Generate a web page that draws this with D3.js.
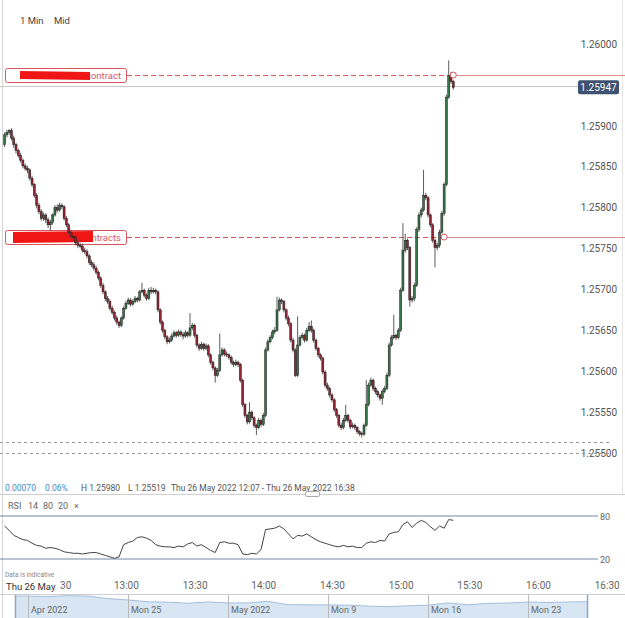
<!DOCTYPE html>
<html>
<head>
<meta charset="utf-8">
<script src="https://cdnjs.cloudflare.com/ajax/libs/d3/7.8.5/d3.min.js"></script>
<style>
  body { margin: 0; background: #fff; }
  svg { display: block; font-family: Roboto, "Open Sans", sans-serif; }
</style>
</head>
<body>
<div id="chart"></div>
<script>
// GBP/USD 1 minute candles, Thu 26 May 2022, first candle 12:07
const startTime = new Date(2022, 4, 26, 12, 7);
const firstOpen = 1.25877;

const closes = [
  1.25889, 1.25892, 1.25894, 1.25885, 1.25877, 1.25870, 1.25864, 1.25858, 1.25851, 1.25848,
  1.25846, 1.25836, 1.25828, 1.25815, 1.25803, 1.25795, 1.25787, 1.25791, 1.25785, 1.25779,
  1.25782, 1.25791, 1.25800, 1.25797, 1.25803, 1.25801, 1.25787, 1.25779, 1.25770, 1.25765,
  1.25764, 1.25757, 1.25754, 1.25753, 1.25748, 1.25746, 1.25741, 1.25733, 1.25730, 1.25726,
  1.25721, 1.25714, 1.25705, 1.25697, 1.25689, 1.25685, 1.25677, 1.25672, 1.25665, 1.25660,
  1.25656, 1.25665, 1.25677, 1.25683, 1.25687, 1.25682, 1.25685, 1.25689, 1.25687, 1.25697,
  1.25699, 1.25693, 1.25689, 1.25699, 1.25697, 1.25699, 1.25697, 1.25675, 1.25660, 1.25650,
  1.25642, 1.25636, 1.25638, 1.25643, 1.25647, 1.25644, 1.25648, 1.25645, 1.25643, 1.25647,
  1.25644, 1.25653, 1.25656, 1.25644, 1.25632, 1.25628, 1.25633, 1.25628, 1.25631, 1.25620,
  1.25611, 1.25604, 1.25595, 1.25601, 1.25620, 1.25626, 1.25621, 1.25620, 1.25617, 1.25611,
  1.25608, 1.25611, 1.25608, 1.25589, 1.25559, 1.25546, 1.25538, 1.25550, 1.25543, 1.25534,
  1.25531, 1.25540, 1.25535, 1.25546, 1.25626, 1.25636, 1.25641, 1.25648, 1.25650, 1.25675,
  1.25687, 1.25685, 1.25675, 1.25665, 1.25658, 1.25638, 1.25626, 1.25595, 1.25632, 1.25641,
  1.25644, 1.25638, 1.25650, 1.25655, 1.25650, 1.25638, 1.25628, 1.25620, 1.25616, 1.25599,
  1.25583, 1.25579, 1.25571, 1.25565, 1.25553, 1.25546, 1.25534, 1.25531, 1.25540, 1.25546,
  1.25540, 1.25532, 1.25534, 1.25531, 1.25526, 1.25524, 1.25523, 1.25534, 1.25559, 1.25583,
  1.25589, 1.25579, 1.25575, 1.25571, 1.25567, 1.25575, 1.25579, 1.25595, 1.25632, 1.25641,
  1.25644, 1.25641, 1.25650, 1.25699, 1.25748, 1.25760, 1.25751, 1.25687, 1.25689, 1.25705,
  1.25773, 1.25791, 1.25797, 1.25815, 1.25812, 1.25791, 1.25779, 1.25760, 1.25751, 1.25754,
  1.25770, 1.25793, 1.25828, 1.25935, 1.25961, 1.25954, 1.25947
];

const highs = [
  1.25892, 1.25895, 1.25896, 1.25897, 1.25888, 1.25879, 1.25872, 1.25867, 1.25860, 1.25854,
  1.25851, 1.25848, 1.25839, 1.25830, 1.25818, 1.25806, 1.25798, 1.25794, 1.25793, 1.25788,
  1.25785, 1.25793, 1.25803, 1.25804, 1.25806, 1.25805, 1.25803, 1.25790, 1.25781, 1.25773,
  1.25768, 1.25766, 1.25760, 1.25757, 1.25756, 1.25751, 1.25749, 1.25743, 1.25736, 1.25733,
  1.25729, 1.25723, 1.25716, 1.25708, 1.25699, 1.25692, 1.25688, 1.25680, 1.25674, 1.25668,
  1.25662, 1.25667, 1.25679, 1.25686, 1.25690, 1.25689, 1.25688, 1.25692, 1.25691, 1.25699,
  1.25708, 1.25701, 1.25695, 1.25702, 1.25703, 1.25702, 1.25701, 1.25699, 1.25677, 1.25662,
  1.25652, 1.25644, 1.25641, 1.25646, 1.25650, 1.25649, 1.25651, 1.25650, 1.25648, 1.25650,
  1.25649, 1.25671, 1.25659, 1.25658, 1.25646, 1.25634, 1.25636, 1.25635, 1.25634, 1.25633,
  1.25622, 1.25613, 1.25606, 1.25604, 1.25646, 1.25629, 1.25628, 1.25624, 1.25622, 1.25619,
  1.25613, 1.25614, 1.25613, 1.25610, 1.25591, 1.25561, 1.25548, 1.25562, 1.25552, 1.25545,
  1.25536, 1.25543, 1.25542, 1.25549, 1.25629, 1.25639, 1.25644, 1.25651, 1.25654, 1.25691,
  1.25690, 1.25689, 1.25687, 1.25677, 1.25668, 1.25660, 1.25641, 1.25628, 1.25667, 1.25644,
  1.25647, 1.25646, 1.25653, 1.25660, 1.25662, 1.25652, 1.25640, 1.25630, 1.25622, 1.25618,
  1.25601, 1.25586, 1.25581, 1.25573, 1.25567, 1.25555, 1.25548, 1.25537, 1.25543, 1.25559,
  1.25548, 1.25542, 1.25537, 1.25536, 1.25533, 1.25528, 1.25526, 1.25536, 1.25589, 1.25586,
  1.25592, 1.25591, 1.25581, 1.25577, 1.25573, 1.25578, 1.25582, 1.25598, 1.25635, 1.25644,
  1.25669, 1.25646, 1.25653, 1.25702, 1.25781, 1.25768, 1.25762, 1.25753, 1.25692, 1.25708,
  1.25776, 1.25794, 1.25800, 1.25846, 1.25818, 1.25814, 1.25793, 1.25781, 1.25762, 1.25757,
  1.25773, 1.25796, 1.25831, 1.25938, 1.25980, 1.25966, 1.25956
];

const lows = [
  1.25874, 1.25886, 1.25889, 1.25882, 1.25873, 1.25866, 1.25861, 1.25855, 1.25848, 1.25845,
  1.25842, 1.25833, 1.25825, 1.25812, 1.25799, 1.25792, 1.25784, 1.25784, 1.25781, 1.25775,
  1.25772, 1.25779, 1.25789, 1.25794, 1.25795, 1.25798, 1.25784, 1.25776, 1.25767, 1.25762,
  1.25760, 1.25754, 1.25751, 1.25750, 1.25745, 1.25743, 1.25738, 1.25730, 1.25727, 1.25723,
  1.25718, 1.25711, 1.25702, 1.25694, 1.25686, 1.25682, 1.25674, 1.25669, 1.25662, 1.25657,
  1.25653, 1.25654, 1.25663, 1.25675, 1.25681, 1.25679, 1.25680, 1.25683, 1.25684, 1.25685,
  1.25695, 1.25690, 1.25686, 1.25687, 1.25694, 1.25695, 1.25694, 1.25672, 1.25657, 1.25647,
  1.25639, 1.25633, 1.25634, 1.25636, 1.25641, 1.25641, 1.25642, 1.25642, 1.25639, 1.25641,
  1.25641, 1.25642, 1.25650, 1.25641, 1.25629, 1.25625, 1.25626, 1.25625, 1.25626, 1.25617,
  1.25608, 1.25601, 1.25586, 1.25593, 1.25599, 1.25618, 1.25618, 1.25617, 1.25614, 1.25608,
  1.25605, 1.25606, 1.25605, 1.25586, 1.25556, 1.25543, 1.25535, 1.25536, 1.25540, 1.25531,
  1.25522, 1.25529, 1.25532, 1.25533, 1.25544, 1.25624, 1.25634, 1.25639, 1.25645, 1.25648,
  1.25673, 1.25682, 1.25672, 1.25662, 1.25655, 1.25635, 1.25623, 1.25593, 1.25593, 1.25630,
  1.25639, 1.25635, 1.25636, 1.25648, 1.25647, 1.25635, 1.25625, 1.25617, 1.25613, 1.25596,
  1.25580, 1.25576, 1.25568, 1.25562, 1.25550, 1.25543, 1.25531, 1.25528, 1.25529, 1.25538,
  1.25537, 1.25529, 1.25530, 1.25528, 1.25523, 1.25521, 1.25519, 1.25521, 1.25532, 1.25557,
  1.25581, 1.25576, 1.25572, 1.25568, 1.25564, 1.25559, 1.25573, 1.25577, 1.25593, 1.25630,
  1.25639, 1.25638, 1.25639, 1.25648, 1.25697, 1.25745, 1.25748, 1.25679, 1.25684, 1.25686,
  1.25703, 1.25770, 1.25788, 1.25795, 1.25809, 1.25788, 1.25776, 1.25757, 1.25727, 1.25748,
  1.25751, 1.25768, 1.25790, 1.25826, 1.25933, 1.25951, 1.25944
];

// RSI(14), one reading every 2 minutes from 12:07
const rsiValues = [
  66, 60, 53, 50, 47, 46, 42, 39, 38, 35, 36, 35, 33, 30, 29, 28, 28, 27, 28, 29,
  29, 27, 25, 23, 21, 23, 40, 43, 45, 50, 51, 49, 46, 40, 38, 37, 37, 36, 38, 37,
  41, 43, 38, 40, 36, 32, 29, 43, 44, 42, 42, 40, 27, 26, 28, 27, 33, 61, 62, 63,
  66, 62, 55, 48, 53, 52, 55, 51, 47, 44, 42, 40, 38, 37, 39, 37, 38, 36, 36, 42,
  44, 43, 46, 45, 55, 57, 58, 68, 72, 64, 70, 74, 71, 65, 60, 66, 63, 75, 74
];
const rsiLevels = [80, 20];

// 1.25950 is left out: the last-price badge sits on it
const priceTicks = [1.255, 1.2555, 1.256, 1.2565, 1.257, 1.2575, 1.258, 1.2585, 1.259, 1.26];

// alert levels (labels partly redacted in the source)
const alertPrices = [1.25962, 1.25764];
const alertLabels = ["contract", "ntracts"];
const alertHitMinutes = [196, 192];
const dashedLevels = [1.25513, 1.255];

// navigator: daily closes by trading day, index 0 = Mon 18 Apr
const navIndex = d3.range(-2, 29);
const navCloses = [
  1.3065, 1.3060, 1.3030, 1.3000, 1.3070, 1.3035, 1.2835, 1.2730, 1.2585, 1.2555,
  1.2470, 1.2575, 1.2490, 1.2495, 1.2620, 1.2355, 1.2340, 1.2335, 1.2320, 1.2245,
  1.2200, 1.2265, 1.2315, 1.2490, 1.2345, 1.2460, 1.2485, 1.2565, 1.2530, 1.2570,
  1.2595
];
const navLabels = ["Apr 2022", "Mon 25", "May 2022", "Mon 9", "Mon 16", "Mon 23"];
const navLabelIndex = [0, 5, 10, 15, 20, 25];

const W = 625, H = 618;
const svg = d3.select("#chart").append("svg").attr("width", W).attr("height", H);

// scales
const xScale = d3.scaleTime()
  .domain([new Date(2022, 4, 26, 12, 5), new Date(2022, 4, 26, 16, 38)])
  .range([0, W]);
const yScale = d3.scaleLinear().domain([1.255, 1.26]).range([453, 44]);
const rsiScale = d3.scaleLinear().domain([20, 80]).range([559, 516]);

const candles = closes.map((c, i) => ({
  time: d3.timeMinute.offset(startTime, i),
  open: i === 0 ? firstOpen : closes[i - 1],
  high: highs[i],
  low: lows[i],
  close: c,
}));

// frame lines
svg.append("line").attr("x1", 2.5).attr("x2", 2.5).attr("y1", 0).attr("y2", H)
  .attr("stroke", "#d4d4d4");
svg.append("line").attr("x1", 622.5).attr("x2", 622.5).attr("y1", 0).attr("y2", 494)
  .attr("stroke", "#e4e4e4");
svg.append("line").attr("x1", 0).attr("x2", W).attr("y1", 494.5).attr("y2", 494.5)
  .attr("stroke", "#cfcfcf");
svg.append("line").attr("x1", 0).attr("x2", W).attr("y1", 594.5).attr("y2", 594.5)
  .attr("stroke", "#cfcfcf");

// header
svg.append("text").attr("x", 20).attr("y", 24).attr("font-size", 9.5).attr("fill", "#444").text("1 Min");
svg.append("text").attr("x", 54).attr("y", 24).attr("font-size", 9.5).attr("fill", "#444").text("Mid");

// price axis
const yAxis = d3.axisRight(yScale).tickValues(priceTicks)
  .tickFormat(d3.format(".5f")).tickSize(0).tickPadding(0);
const yAxisG = svg.append("g").attr("transform", "translate(617,0)").call(yAxis);
yAxisG.select(".domain").remove();
yAxisG.selectAll("text").attr("text-anchor", "end").attr("fill", "#555")
  .attr("font-size", 10).attr("font-family", "Roboto, sans-serif");

// grey dashed levels
svg.selectAll(".dash-level").data(dashedLevels).enter().append("line")
  .attr("class", "dash-level")
  .attr("x1", 0).attr("x2", 612)
  .attr("y1", (d) => Math.round(yScale(d)) + 0.5).attr("y2", (d) => Math.round(yScale(d)) + 0.5)
  .attr("stroke", "#9a9a9a").attr("stroke-dasharray", "3,3");

// last price line
const last = closes[closes.length - 1];
svg.append("line").attr("x1", 0).attr("x2", 578)
  .attr("y1", Math.round(yScale(last)) - 0.5).attr("y2", Math.round(yScale(last)) - 0.5)
  .attr("stroke", "#c9c9c9");

// alert levels
alertPrices.forEach((p, k) => {
  const y = Math.round(yScale(p)) + 0.5;
  const hx = xScale(d3.timeMinute.offset(startTime, alertHitMinutes[k]));
  svg.append("line").attr("x1", 127).attr("x2", hx).attr("y1", y).attr("y2", y)
    .attr("stroke", "#e05555").attr("stroke-dasharray", "5,3");
  svg.append("line").attr("x1", hx).attr("x2", W).attr("y1", y).attr("y2", y)
    .attr("stroke", "#e28a8a");
  svg.append("rect").attr("x", 5.5).attr("y", y - 7).attr("width", 121).attr("height", 14)
    .attr("rx", 2).attr("fill", "#fff").attr("stroke", "#d9535f");
  svg.append("text").attr("x", 121).attr("y", y + 3.5).attr("text-anchor", "end")
    .attr("font-size", 9.5).attr("fill", "#d45a66").text(alertLabels[k]);
});
// redaction marks over the label text
svg.append("path").attr("d", "M20,71 L90,72 L90,80 L20,79 Z").attr("fill", "#f01616");
svg.append("path").attr("d", "M13,232 L93,231 L93,242 L13,243 Z").attr("fill", "#f01616");

// candles
const candleG = svg.append("g");
candleG.selectAll(".wick").data(candles).enter().append("line")
  .attr("class", "wick")
  .attr("x1", (d) => xScale(d.time)).attr("x2", (d) => xScale(d.time))
  .attr("y1", (d) => yScale(d.high)).attr("y2", (d) => yScale(d.low))
  .attr("stroke", "#4a4a4a").attr("stroke-width", 0.9);
candleG.selectAll(".body").data(candles).enter().append("rect")
  .attr("class", "body")
  .attr("x", (d) => xScale(d.time) - 1)
  .attr("width", 2)
  .attr("y", (d) => yScale(Math.max(d.open, d.close)))
  .attr("height", (d) => Math.max(1, Math.abs(yScale(d.open) - yScale(d.close))))
  .attr("fill", (d) => (d.close >= d.open ? "#3a7549" : "#952535"))
  .attr("stroke", "#1a1a1a").attr("stroke-width", 0.5);

// alert hit markers
alertPrices.forEach((p, k) => {
  svg.append("circle")
    .attr("cx", xScale(d3.timeMinute.offset(startTime, alertHitMinutes[k])))
    .attr("cy", yScale(p)).attr("r", 3)
    .attr("fill", "#fff").attr("stroke", "#d9535f");
});

// last price badge
svg.append("rect").attr("x", 578).attr("y", yScale(last) - 7).attr("width", 41).attr("height", 14)
  .attr("rx", 2).attr("fill", "#3e5170");
svg.append("text").attr("x", 598.5).attr("y", yScale(last) + 3.5).attr("text-anchor", "middle")
  .attr("font-size", 10).attr("fill", "#fff").text(d3.format(".5f")(last));

// info row
const change = last - firstOpen;
const info = [
  { x: 5, text: d3.format(".5f")(change), color: "#3d8bc9" },
  { x: 45, text: d3.format(".2%")(change / firstOpen), color: "#3d8bc9" },
  { x: 81, text: "H " + d3.format(".5f")(d3.max(highs)), color: "#555" },
  { x: 128, text: "L " + d3.format(".5f")(d3.min(lows)), color: "#555" },
  { x: 171, text: "Thu 26 May 2022 12:07 - Thu 26 May 2022 16:38", color: "#555" },
];
svg.selectAll(".info").data(info).enter().append("text")
  .attr("class", "info").attr("x", (d) => d.x).attr("y", 491)
  .attr("font-size", 8.5).attr("fill", (d) => d.color).text((d) => d.text);
svg.append("rect").attr("x", 305.5).attr("y", 491.5).attr("width", 14).attr("height", 5)
  .attr("rx", 1.5).attr("fill", "#fff").attr("stroke", "#aaa");

// RSI panel
const rsiTitle = ["RSI", "14", "80", "20", "\u00d7"];
const rsiTitleX = [8, 28, 43, 58, 74];
svg.selectAll(".rsi-title").data(rsiTitle).enter().append("text")
  .attr("class", "rsi-title").attr("x", (d, k) => rsiTitleX[k]).attr("y", 509)
  .attr("font-size", 9).attr("fill", "#666").text((d) => d);
svg.selectAll(".rsi-level").data(rsiLevels).enter().append("line")
  .attr("class", "rsi-level")
  .attr("x1", 0).attr("x2", 598)
  .attr("y1", (d) => rsiScale(d)).attr("y2", (d) => rsiScale(d))
  .attr("stroke", "#6f8aa5");
svg.selectAll(".rsi-label").data(rsiLevels).enter().append("text")
  .attr("class", "rsi-label")
  .attr("x", 605).attr("y", (d) => rsiScale(d) + 3.5).attr("text-anchor", "middle")
  .attr("font-size", 9).attr("fill", "#666").text((d) => d);
const rsiLine = d3.line()
  .x((d, k) => xScale(d3.timeMinute.offset(startTime, 2 * k)))
  .y((d) => rsiScale(d));
svg.append("path").datum(rsiValues).attr("d", rsiLine)
  .attr("fill", "none").attr("stroke", "#444").attr("stroke-width", 1);

svg.append("text").attr("x", 5).attr("y", 577).attr("font-size", 6.5).attr("fill", "#888")
  .text("Data is indicative");

// time axis; the first half-hour tick sits under the date label, so only its minutes show
const firstTick = new Date(2022, 4, 26, 12, 30);
const xAxis = d3.axisBottom(xScale).ticks(d3.timeMinute.every(30))
  .tickFormat((d) => (+d === +firstTick ? d3.timeFormat("%M")(d) : d3.timeFormat("%H:%M")(d)))
  .tickSize(0).tickPadding(0);
const xAxisG = svg.append("g").attr("transform", "translate(0,582)").call(xAxis);
xAxisG.select(".domain").remove();
xAxisG.selectAll("text").attr("fill", "#666").attr("font-size", 10)
  .attr("font-family", "Roboto, sans-serif")
  .attr("dx", (d) => (+d === +firstTick ? 8 : 0));
svg.append("text").attr("x", 6).attr("y", 589.5).attr("font-size", 9.5).attr("fill", "#333").text("Thu 26 May");

// navigator
const navX = d3.scaleLinear().domain([0, 28]).range([28, 588]);
const navY = d3.scaleLinear().domain([1.13, 1.32]).range([618, 594]);
const navData = navIndex.map((d, k) => ({ i: d, v: navCloses[k] }));
const navG = svg.append("g");
navG.append("clipPath").attr("id", "navclip").append("rect")
  .attr("x", 15).attr("y", 595).attr("width", 573).attr("height", 23);
navG.append("path").datum(navData)
  .attr("clip-path", "url(#navclip)")
  .attr("d", d3.area().x((d) => navX(d.i)).y0(618).y1((d) => navY(d.v)))
  .attr("fill", "#d8e6f4");
navG.append("path").datum(navData)
  .attr("clip-path", "url(#navclip)")
  .attr("d", d3.line().x((d) => navX(d.i)).y((d) => navY(d.v)))
  .attr("fill", "none").attr("stroke", "#a3bfdb");
navG.selectAll(".nav-sep").data(navLabelIndex).enter().append("line")
  .attr("class", "nav-sep")
  .attr("x1", (d) => navX(d) + 0.5).attr("x2", (d) => navX(d) + 0.5)
  .attr("y1", 595).attr("y2", 618).attr("stroke", "#b9b9b9");
navG.selectAll(".nav-label").data(navLabels).enter().append("text")
  .attr("class", "nav-label")
  .attr("x", (d, k) => navX(navLabelIndex[k]) + 3).attr("y", 613)
  .attr("font-size", 9).attr("fill", "#666").text((d) => d);
[15, 587].forEach((x) => {
  navG.append("line").attr("x1", x + 0.5).attr("x2", x + 0.5).attr("y1", 595).attr("y2", 618)
    .attr("stroke", "#8ea6bf").attr("stroke-width", 1.5);
});
</script>
</body>
</html>
